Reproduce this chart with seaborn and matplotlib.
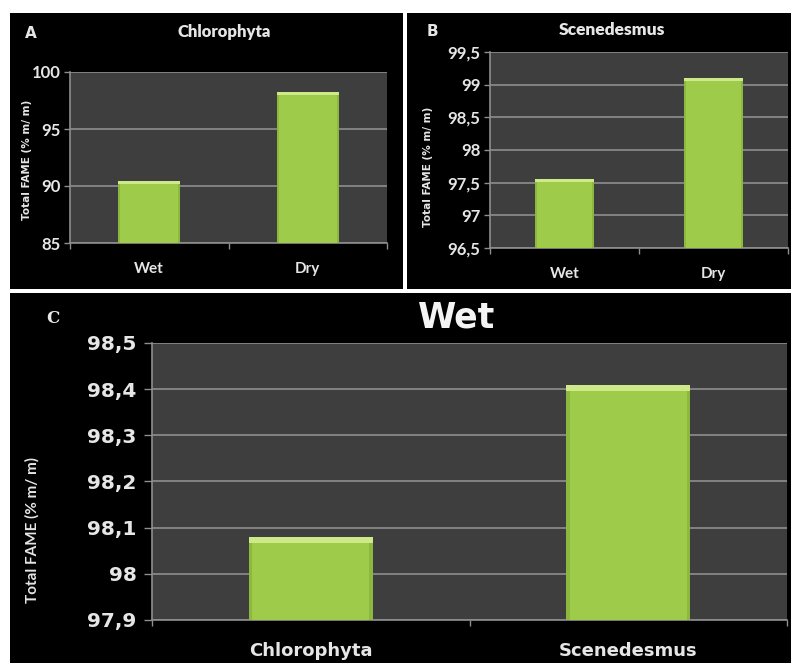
import matplotlib
matplotlib.use("Agg")
import matplotlib.pyplot as plt
from matplotlib.patches import Rectangle
import seaborn as sns
import pandas as pd

# ---- data -------------------------------------------------------------
moisture = ["Wet", "Dry"]
chlorophyta_fame = [90.45, 98.25]
scenedesmus_fame = [97.55, 99.10]

species = ["Chlorophyta", "Scenedesmus"]
wet_fame = [98.08, 98.41]

a_ticks = [85, 90, 95, 100]
a_ticklabels = ["85", "90", "95", "100"]
b_ticks = [96.5, 97.0, 97.5, 98.0, 98.5, 99.0, 99.5]
b_ticklabels = ["96,5", "97", "97,5", "98", "98,5", "99", "99,5"]
c_ticks = [97.9, 98.0, 98.1, 98.2, 98.3, 98.4, 98.5]
c_ticklabels = ["97,9", "98", "98,1", "98,2", "98,3", "98,4", "98,5"]

# ---- style ------------------------------------------------------------
sns.set_theme(style="dark")
W, H = 791, 663
PANEL_BG = "#000000"
PLOT_BG = "#3e3e3e"
GRID = "#8e8e8e"
BAR = "#9fcb4b"
BAR_TOP = "#cde98a"
BAR_SIDE = "#86b13a"
TEXT = "#e6e6e6"

fig = plt.figure(figsize=(W / 100, H / 100), dpi=100, facecolor="white")


def fx(px):
    return px / W


def fy(py):
    return 1 - py / H


def panel(x0, y0, x1, y1):
    fig.patches.append(Rectangle((fx(x0), fy(y1)), fx(x1 - x0), (y1 - y0) / H,
                                 transform=fig.transFigure, facecolor=PANEL_BG,
                                 edgecolor="none", zorder=-10))


def axes_px(x0, y0, x1, y1):
    ax = fig.add_axes([fx(x0), fy(y1), fx(x1 - x0), (y1 - y0) / H])
    ax.set_zorder(5)
    return ax


def bars(ax, cats, vals, ylim, ticks, ticklabels, ytick_font, xtick_font, bevel_px):
    df = pd.DataFrame({"cat": cats, "val": vals})
    sns.barplot(data=df, x="cat", y="val", ax=ax, color=BAR, width=0.39,
                saturation=1, edgecolor="none", zorder=3)
    ax.set_ylim(*ylim)
    ax.set_xlim(-0.5, len(cats) - 0.5)
    ax.set_facecolor(PLOT_BG)
    ax.set_xlabel("")
    ax.set_ylabel("")
    ax.set_yticks(ticks)
    ax.set_yticklabels(ticklabels, **ytick_font)
    ax.set_xticks(range(len(cats)))
    ax.set_xticklabels(cats, **xtick_font)
    ax.set_xticks([i - 0.5 for i in range(len(cats) + 1)], minor=True)
    ax.grid(axis="y", color=GRID, linewidth=1.2, zorder=1)
    ax.grid(axis="x", visible=False)
    for side in ("top", "right"):
        ax.spines[side].set_visible(False)
    for side in ("left", "bottom"):
        ax.spines[side].set_visible(True)
        ax.spines[side].set_color(GRID)
        ax.spines[side].set_linewidth(1.2)
    ax.tick_params(axis="y", which="major", left=True, length=4, width=1,
                   color=GRID, pad=3, labelcolor=TEXT)
    ax.tick_params(axis="x", which="major", bottom=False, labelcolor=TEXT, pad=8)
    ax.tick_params(axis="x", which="minor", bottom=True, length=4, width=1, color=GRID)
    # bevelled look on each bar: light top band and darker side strips
    bbox = ax.get_window_extent()
    dy = (ylim[1] - ylim[0]) * bevel_px / bbox.height
    dx = (len(cats)) * bevel_px / bbox.width
    for p in list(ax.patches):
        x, w, h = p.get_x(), p.get_width(), p.get_height()
        top = p.get_y() + h
        ax.add_patch(Rectangle((x, top - dy), w, dy, facecolor=BAR_TOP,
                               edgecolor="none", zorder=4))
        ax.add_patch(Rectangle((x, ylim[0]), dx * 0.6, top - dy - ylim[0],
                               facecolor=BAR_SIDE, edgecolor="none", zorder=4, alpha=0.7))
        ax.add_patch(Rectangle((x + w - dx * 0.6, ylim[0]), dx * 0.6, top - dy - ylim[0],
                               facecolor=BAR_SIDE, edgecolor="none", zorder=4, alpha=0.7))


# ---- panel backgrounds --------------------------------------------------
panel(10, 13, 403, 289)
panel(407, 13, 791, 289)
panel(10, 293, 791, 663)

small_tick = dict(fontfamily="Lato", fontweight="bold", fontsize=12, color=TEXT)
small_x = dict(fontfamily="Lato", fontweight="bold", fontsize=11, color=TEXT)

# ---- A: Chlorophyta -----------------------------------------------------
ax_a = axes_px(70, 72, 387, 243)
bars(ax_a, moisture, chlorophyta_fame, (85, 100), a_ticks, a_ticklabels,
     small_tick, small_x, 3)
fig.text(fx(31), fy(33), "A", fontfamily="DejaVu Sans", fontweight="bold",
         fontsize=11, color=TEXT, ha="center", va="center")
fig.text(fx(224), fy(32), "Chlorophyta", fontfamily="Lato", fontweight="heavy",
         fontsize=12, color=TEXT, ha="center", va="center")
fig.text(fx(27), fy(160), "Total FAME (% m/ m)", fontfamily="DejaVu Sans",
         fontweight="bold", fontsize=7.5, color=TEXT, rotation=90,
         ha="center", va="center")

# ---- B: Scenedesmus -----------------------------------------------------
ax_b = axes_px(490, 52, 788, 248)
bars(ax_b, moisture, scenedesmus_fame, (96.5, 99.5), b_ticks, b_ticklabels,
     small_tick, small_x, 3)
fig.text(fx(432), fy(31), "B", fontfamily="DejaVu Sans", fontweight="bold",
         fontsize=11, color=TEXT, ha="center", va="center")
fig.text(fx(612), fy(30), "Scenedesmus", fontfamily="Lato", fontweight="heavy",
         fontsize=12.5, color=TEXT, ha="center", va="center")
fig.text(fx(428), fy(167), "Total FAME (% m/ m)", fontfamily="DejaVu Sans",
         fontweight="bold", fontsize=7.5, color=TEXT, rotation=90,
         ha="center", va="center")

# ---- C: wet biomass comparison -------------------------------------------
big_tick = dict(fontfamily="DejaVu Sans", fontweight="bold", fontsize=14.5, color=TEXT)
big_x = dict(fontfamily="DejaVu Sans", fontweight="bold", fontsize=13, color="#d8d8d8")
ax_c = axes_px(152, 343, 787, 620)
bars(ax_c, species, wet_fame, (97.9, 98.5), c_ticks, c_ticklabels,
     big_tick, big_x, 6)
ax_c.tick_params(axis="y", which="major", length=6, pad=5)
ax_c.tick_params(axis="x", which="major", pad=10)
fig.text(fx(53), fy(318), "C", fontfamily="DejaVu Serif", fontweight="bold",
         fontsize=12, color=TEXT, ha="center", va="center")
fig.text(fx(457), fy(317), "Wet", fontfamily="DejaVu Sans", fontweight="bold",
         fontsize=25, color="#f4f4f4", ha="center", va="center")
fig.text(fx(32), fy(530), "Total FAME (% m/ m)", fontfamily="Lato",
         fontweight="bold", fontsize=11, color=TEXT, rotation=90,
         ha="center", va="center")

fig.savefig("out.png", dpi=100, facecolor="white")
